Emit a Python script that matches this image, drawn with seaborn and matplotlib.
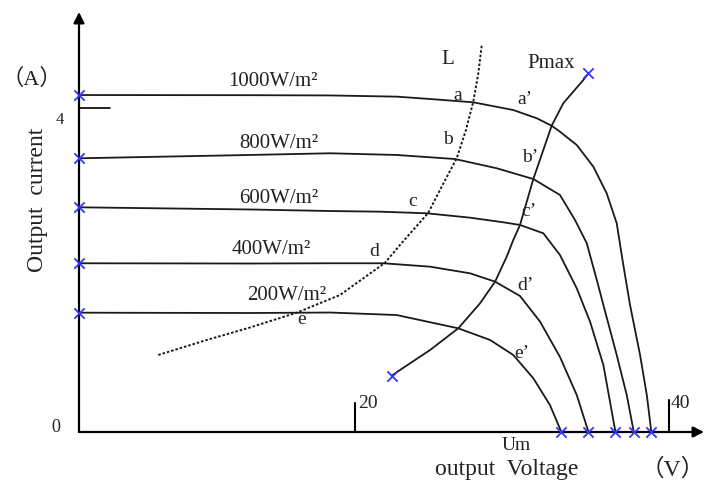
import matplotlib
matplotlib.use("Agg")
import matplotlib.pyplot as plt
import seaborn as sns
import pandas as pd

# ---------------- data (voltage V, current A) ----------------
curve_labels = ["1000W/m²", "800W/m²", "600W/m²", "400W/m²", "200W/m²"]

v_1000 = [2.37, 13.28, 18.39, 22.64, 24.77, 27.53, 30.08, 31.58, 32.53, 33.06, 34.13, 35.19, 36.04, 36.68, 37.05, 37.53, 38.17, 38.60, 38.89]
i_1000 = [4.160, 4.158, 4.155, 4.140, 4.111, 4.070, 3.975, 3.873, 3.781, 3.707, 3.543, 3.275, 2.947, 2.577, 2.123, 1.568, 0.951, 0.457, 0.0]

v_800 = [2.37, 13.28, 18.39, 22.64, 26.36, 29.02, 31.36, 33.06, 34.02, 34.77, 35.41, 35.83, 36.68, 37.32, 37.77]
i_800 = [3.379, 3.420, 3.441, 3.420, 3.370, 3.256, 3.123, 2.926, 2.617, 2.330, 1.877, 1.568, 0.951, 0.457, 0.0]

v_600 = [2.37, 13.28, 18.39, 21.58, 24.56, 27.32, 29.44, 30.51, 32.00, 33.06, 34.13, 34.98, 35.83, 36.60]
i_600 = [2.774, 2.747, 2.728, 2.720, 2.700, 2.646, 2.589, 2.556, 2.453, 2.185, 1.774, 1.362, 0.827, 0.0]

v_400 = [2.37, 13.28, 18.39, 21.79, 24.77, 27.32, 28.92, 30.51, 31.79, 33.06, 34.13, 34.88]
i_400 = [2.083, 2.080, 2.083, 2.083, 2.041, 1.959, 1.856, 1.679, 1.362, 0.926, 0.457, 0.0]

v_200 = [2.37, 13.28, 18.39, 22.64, 26.57, 28.60, 30.08, 31.36, 32.42, 33.15]
i_200 = [1.473, 1.469, 1.475, 1.444, 1.280, 1.136, 0.951, 0.663, 0.333, 0.0]

# maximum power point locus
v_pmax = [22.32, 22.85, 24.77, 26.57, 27.96, 28.92, 29.66, 30.08, 30.51, 31.36, 32.53, 33.27, 34.55, 34.87]
i_pmax = [0.695, 0.765, 1.012, 1.280, 1.589, 1.856, 2.164, 2.370, 2.556, 3.123, 3.781, 4.058, 4.346, 4.428]

# dotted curve L
v_L = [7.43, 10.52, 13.28, 16.26, 19.02, 21.90, 22.85, 24.66, 25.60, 26.47, 27.06, 27.53, 27.85, 28.07]
i_L = [0.951, 1.136, 1.290, 1.473, 1.691, 2.090, 2.309, 2.707, 3.062, 3.379, 3.728, 4.078, 4.428, 4.778]

x_ticks = [20, 40]
y_ticks = [0, 4]

curves_v = [v_1000, v_800, v_600, v_400, v_200]
curves_i = [i_1000, i_800, i_600, i_400, i_200]

# ---------------- figure ----------------
W, H = 704, 483
sns.set_style("white")
plt.rcParams["font.family"] = ["Liberation Serif", "Noto Sans CJK SC", "DejaVu Sans"]

fig = plt.figure(figsize=(W / 100, H / 100), dpi=100)
ax = fig.add_axes([79 / W, 51 / H, 625 / W, 420 / H])
ax.set_xlim(2.37, 42.25)
ax.set_ylim(0, 5.185)
for s in ax.spines.values():
    s.set_visible(False)
ax.set_xticks([])
ax.set_yticks([])

line_col = "#1a1a1a"
blue = "#3535ff"

rows = []
for lab, vv, ii in zip(curve_labels, curves_v, curves_i):
    for k, (v, i) in enumerate(zip(vv, ii)):
        rows.append({"curve": lab, "order": k, "V": v, "I": i})
df = pd.DataFrame(rows)
sns.lineplot(data=df, x="V", y="I", units="curve", estimator=None, sort=False,
             color=line_col, lw=1.3, ax=ax)

sns.lineplot(x=v_pmax, y=i_pmax, sort=False, estimator=None, color=line_col, lw=1.3, ax=ax)
sns.lineplot(x=v_L, y=i_L, sort=False, estimator=None, color=line_col, lw=1.4,
             linestyle=(0, (1.3, 1.0)), ax=ax)
for l in ax.lines:
    l.set_solid_joinstyle("round")
    l.set_clip_on(False)

# blue crosses: short-circuit, open-circuit points and Pmax ends
mx = [vv[0] for vv in curves_v] + [vv[-1] for vv in curves_v] + [v_pmax[0], v_pmax[-1]]
my = [ii[0] for ii in curves_i] + [ii[-1] for ii in curves_i] + [i_pmax[0], i_pmax[-1]]
sns.scatterplot(x=mx, y=my, marker="x", color=blue, s=55, linewidth=1.3, ax=ax, zorder=5)
for c in ax.collections:
    c.set_clip_on(False)

# axes with arrows
arrow = dict(arrowstyle="-|>", lw=1.6, color="black", mutation_scale=16, shrinkA=0, shrinkB=0)
ax.annotate("", xy=(0, 1), xytext=(0, 0), xycoords="axes fraction", arrowprops=arrow)
ax.annotate("", xy=(1, 0), xytext=(0, 0), xycoords="axes fraction", arrowprops=arrow)

# custom tick marks
ax.plot([2.37, 4.35], [y_ticks[1], y_ticks[1]], color="black", lw=1.2)
ax.plot([x_ticks[0], x_ticks[0]], [0, 0.358], color="black", lw=1.5)
ax.plot([x_ticks[1], x_ticks[1]], [0, 0.395], color="black", lw=1.5)


def ptext(px, py, s, size=15, ha="center", **kw):
    fig.text(px / W, 1 - py / H, s, ha=ha, va="center", fontsize=size, color="#222222", **kw)


ptext(56, 428, str(y_ticks[0]), size=13)
ptext(60, 120, str(y_ticks[1]), size=12)
ptext(358, 403, str(x_ticks[0]), size=14, ha="left")
ptext(671, 403, str(x_ticks[1]), size=14, ha="left")
ptext(32, 79, "（A）", size=16)
ptext(37, 200, "Output  current", size=17, rotation=90)
ptext(435, 469, "output  Voltage", size=17, ha="left")
ptext(641, 469, "（V）", size=17, ha="left")
ptext(516, 446, "Um", size=14)
ptext(448, 60, "L", size=15)
ptext(551, 63, "Pmax", size=15)

label_pos = [(273, 81), (279, 143), (279, 199), (271, 249), (287, 296)]
for lab, (px, py) in zip(curve_labels, label_pos):
    ptext(px, py, lab, size=15)

for s, (px, py) in {"a": (458, 96), "a’": (525, 100), "b": (448, 140), "b’": (530, 158),
                    "c": (413, 202), "c’": (529, 212), "d": (374, 252), "d’": (525, 286),
                    "e": (302, 320), "e’": (522, 354)}.items():
    ptext(px, py, s, size=14)

fig.savefig("out.png", dpi=100)
